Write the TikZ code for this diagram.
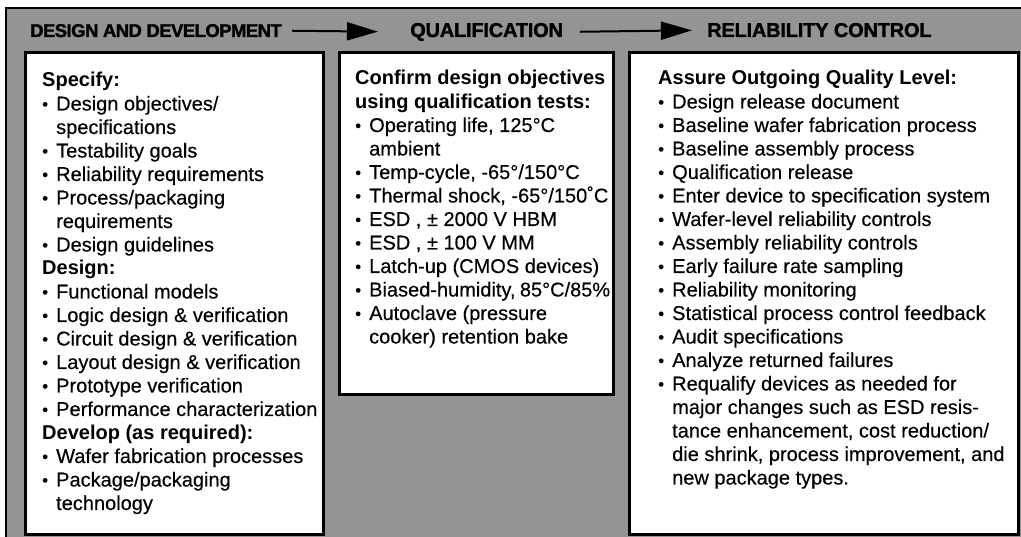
\documentclass[tikz,border=0pt]{standalone}
\usepackage{fontspec}
\setmainfont{Liberation Sans}[UprightFeatures={FakeBold=0.35}]
\newfontfamily\headfont{Liberation Sans}[BoldFeatures={FakeBold=1.6,LetterSpace=-3}]
\newfontfamily\headfontb{Liberation Sans}[BoldFeatures={FakeBold=1.6,LetterSpace=-1}]
\usetikzlibrary{arrows.meta}
\newcommand\bodyfont{\fontsize{20}{23.5}\selectfont}
\newcommand\bl[1]{\makebox[14pt][l]{\raisebox{0.5pt}{\scalebox{0.85}{\textbullet}}}#1}
\newcommand\cl[1]{\hspace*{14pt}#1}
\definecolor{dither}{gray}{0.58}
\tikzset{
  panel/.style={draw=black, line width=3pt, fill=white, inner sep=0pt, anchor=north west},
  head/.style={font=\headfont\fontsize{18.5}{20}\selectfont\bfseries, inner sep=0pt, anchor=base west},
  headb/.style={font=\headfontb\fontsize{20}{22}\selectfont\bfseries, inner sep=0pt, anchor=base west},
  bodytext/.style={font=\bodyfont, inner sep=0pt, anchor=base west},
  flow/.style={line width=2pt, -{Triangle[length=31pt,width=18pt]}}
}
\begin{document}
\begin{tikzpicture}[x=1pt,y=-1pt]
\useasboundingbox (0,0) rectangle (1021,537);
\clip (0,0) rectangle (1021,537);
\fill[dither] (6,8) rectangle (1040,560);
\draw[line width=2pt] (6,560) -- (6,8) -- (1040,8);
% panels
\node[panel, minimum width=298pt, minimum height=482pt] (b1) at (24,51) {};
\node[panel, minimum width=274pt, minimum height=342pt] (b2) at (338,51) {};
\node[panel, minimum width=389pt, minimum height=482pt] (b3) at (628,51) {};
% headings
\node[head] (h1) at (30,37) {DESIGN AND DEVELOPMENT};
\node[headb] (h2) at (410,37) {QUALIFICATION};
\node[headb] (h3) at (707,37) {RELIABILITY CONTROL};
\draw[flow, shorten <=10pt, shorten >=32pt] (h1.east) -- (h2.west);
\draw[flow, shorten <=17pt, shorten >=15pt] (h2.east) -- (h3.west);
% texts
\node[bodytext] (t1) at (42,87) {\parbox[t]{278pt}{%
\textbf{Specify:}\\
\bl{Design objectives/}\\
\cl{specifications}\\
\bl{Testability goals}\\
\bl{Reliability requirements}\\
\bl{Process/packaging}\\
\cl{requirements}\\
\bl{Design guidelines}\\
\textbf{Design:}\\
\bl{Functional models}\\
\bl{Logic design \& verification}\\
\bl{Circuit design \& verification}\\
\bl{Layout design \& verification}\\
\bl{Prototype verification}\\
\bl{Performance characterization}\\
\textbf{Develop (as required):}\\
\bl{Wafer fabrication processes}\\
\bl{Package/packaging}\\
\cl{technology}}};
\node[bodytext] (t2) at (355,85) {\parbox[t]{255pt}{%
\textbf{Confirm design objectives}\\
\textbf{using qualification tests:}\\
\bl{Operating life, 125°C}\\
\cl{ambient}\\
\bl{Temp-cycle, -65°/150°C}\\
\bl{Thermal shock, -65°/150˚C}\\
\bl{ESD , ± 2000 V HBM}\\
\bl{ESD , ± 100 V MM}\\
\bl{Latch-up (CMOS devices)}\\
\bl{Biased-humidity, 85°C/85\%}\\
\bl{Autoclave (pressure}\\
\cl{cooker) retention bake}}};
\node[bodytext] (t3) at (658,85) {\parbox[t]{355pt}{%
\textbf{Assure Outgoing Quality Level:}\\
\bl{Design release document}\\
\bl{Baseline wafer fabrication process}\\
\bl{Baseline assembly process}\\
\bl{Qualification release}\\
\bl{Enter device to specification system}\\
\bl{Wafer-level reliability controls}\\
\bl{Assembly reliability controls}\\
\bl{Early failure rate sampling}\\
\bl{Reliability monitoring}\\
\bl{Statistical process control feedback}\\
\bl{Audit specifications}\\
\bl{Analyze returned failures}\\
\bl{Requalify devices as needed for}\\
\cl{major changes such as ESD resis-}\\
\cl{tance enhancement, cost reduction/}\\
\cl{die shrink, process improvement, and}\\
\cl{new package types.}}};
\end{tikzpicture}
\end{document}
